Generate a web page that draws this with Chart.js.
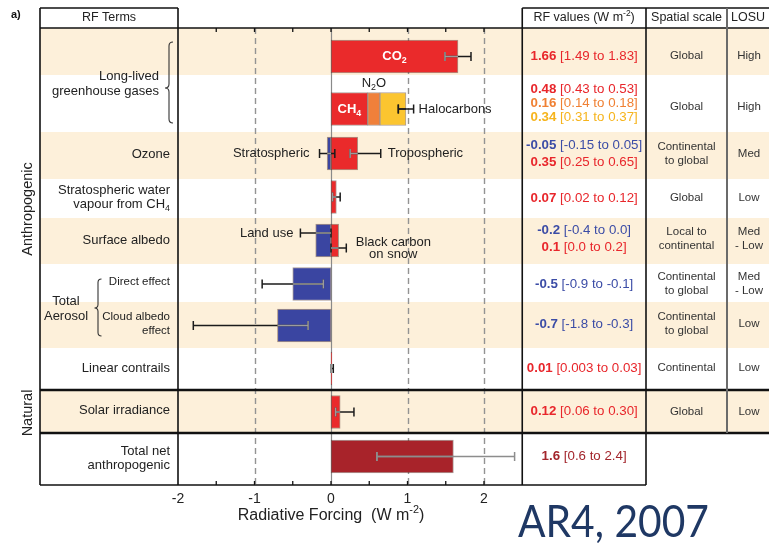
<!DOCTYPE html>
<html>
<head>
<meta charset="utf-8">
<title>Radiative forcing components</title>
<script src="https://cdn.jsdelivr.net/npm/chart.js@4.4.1/dist/chart.umd.min.js"></script>
<style>
  html, body { margin: 0; padding: 0; background: #fff; }
  canvas { display: block; }
</style>
</head>
<body>
<canvas id="rf" width="769" height="548"></canvas>
<script>
// ---- Radiative forcing components (W m^-2): best estimate and 90% range ----
const rfValue = ['1.66', '0.48', '0.16', '0.34', '-0.05', '0.35', '0.07', '-0.2', '0.1', '-0.5', '-0.7', '0.01', '0.12', '1.6'];
const rfLow   = ['1.49', '0.43', '0.14', '0.31', '-0.15', '0.25', '0.02', '-0.4', '0.0', '-0.9', '-1.8', '0.003', '0.06', '0.6'];
const rfHigh  = ['1.83', '0.53', '0.18', '0.37', '0.05', '0.65', '0.12', '0.0', '0.2', '-0.1', '-0.3', '0.03', '0.30', '2.4'];
// table row each component belongs to
const rfRow   = [0, 1, 1, 1, 2, 2, 3, 4, 4, 5, 6, 7, 8, 9];
// colour family of each component
const rfKind  = ['red', 'red', 'orange', 'yellow', 'blue', 'red', 'red', 'blue', 'red', 'blue', 'blue', 'red', 'red', 'darkred'];
// components that carry their own whisker (CH4, N2O, halocarbons share one)
const rfWhisker = [true, false, false, false, true, true, true, true, true, true, true, true, true, true];
const ghgStackRange = [0.88, 1.08];

// ---- table text ----
const termLabels   = [null, null, 'Ozone', 'Stratospheric water|vapour from CH_4', 'Surface albedo',
                      'Direct effect', 'Cloud albedo|effect', 'Linear contrails', 'Solar irradiance', 'Total net|anthropogenic'];
const spatialScale = ['Global', 'Global', 'Continental|to global', 'Global', 'Local to|continental',
                      'Continental|to global', 'Continental|to global', 'Continental', 'Global', null];
const losu         = ['High', 'High', 'Med', 'Low', 'Med|- Low', 'Med|- Low', 'Low', 'Low', 'Low', null];
const xTicks       = [-2, -1, 0, 1, 2];

// ---- layout & style ----
const FONT = '"Liberation Sans", Arial, Helvetica, sans-serif';
const BAR_COLORS  = { red: '#ea2a2b', orange: '#f0803a', yellow: '#fbc530', blue: '#3a45a1', darkred: '#a8232a' };
const TEXT_COLORS = { red: '#e8262b', orange: '#f08033', yellow: '#f6b41c', blue: '#3b4ca6', darkred: '#a3262c' };
const CREAM = '#fdf0da';
const ROW_EDGES = [0, 47, 104, 151, 190, 236, 274, 320, 362, 405, 457];   // row boundaries on the y scale
const BAR_SHIFT = [5, 5.5, -2, -1.5, -0.5, 1, 0.5, -0.5, 0.5, -2.5];     // bar offset from row middle
const TEXT_SHIFT = [4.5, 0, -1.5, -0.5, -2, 1, -1, -1, 0, -3];           // table text offset from row middle
const shadedRows = [0, 2, 4, 6, 8];
const BOX = { left: 40, top: 8, valuesRight: 646, scaleRight: 727, right: 769 };
const AXIS_H = 30;

const rowMid = r => (ROW_EDGES[r] + ROW_EDGES[r + 1]) / 2;

// stack same-signed components within a row
const barStart = [], barEnd = [];
const rowAcc = {};
rfValue.forEach((s, i) => {
  const v = Number(s);
  const acc = rowAcc[rfRow[i]] || (rowAcc[rfRow[i]] = { pos: 0, neg: 0 });
  const key = v >= 0 ? 'pos' : 'neg';
  barStart.push(acc[key]);
  acc[key] += v;
  barEnd.push(acc[key]);
});

// ---- rich text helpers: "_x" / "_{..}" subscript, "^{..}" superscript, "|" new line ----
function parseRich(str) {
  const segs = [];
  let buf = '', i = 0;
  while (i < str.length) {
    const c = str[i];
    if (c === '_' || c === '^') {
      if (buf) { segs.push({ t: buf, m: 0 }); buf = ''; }
      let t;
      if (str[i + 1] === '{') { const j = str.indexOf('}', i); t = str.slice(i + 2, j); i = j + 1; }
      else { t = str[i + 1]; i += 2; }
      segs.push({ t, m: c === '_' ? 1 : -1 });
    } else { buf += c; i++; }
  }
  if (buf) segs.push({ t: buf, m: 0 });
  return segs;
}

// runs: array of {s, bold}
function drawRuns(ctx, runs, x, y, opt) {
  const size = opt.size || 13;
  const pieces = [];
  runs.forEach(run => parseRich(run.s).forEach(seg => pieces.push({ ...seg, bold: run.bold || opt.bold })));
  let w = 0;
  pieces.forEach(p => {
    p.font = `${p.bold ? 'bold ' : ''}${p.m ? size * 0.68 : size}px ${FONT}`;
    ctx.font = p.font;
    p.w = ctx.measureText(p.t).width;
    w += p.w;
  });
  let cx = opt.align === 'center' ? x - w / 2 : opt.align === 'right' ? x - w : x;
  ctx.textAlign = 'left';
  ctx.textBaseline = 'middle';
  ctx.fillStyle = opt.color || '#222';
  pieces.forEach(p => {
    ctx.font = p.font;
    const dy = p.m > 0 ? size * 0.32 : p.m < 0 ? -size * 0.36 : 0;
    ctx.fillText(p.t, cx, y + dy);
    cx += p.w;
  });
  return w;
}

function drawLines(ctx, text, x, yMid, spacing, opt) {
  const lines = text.split('|');
  lines.forEach((ln, k) => drawRuns(ctx, [{ s: ln }], x, yMid + (k - (lines.length - 1) / 2) * spacing, opt));
}

function line(ctx, x1, y1, x2, y2) {
  ctx.beginPath(); ctx.moveTo(x1, y1); ctx.lineTo(x2, y2); ctx.stroke();
}

function brace(ctx, x, y1, y2, ym, w) {
  ctx.beginPath();
  ctx.moveTo(x + w, y1);
  ctx.quadraticCurveTo(x, y1, x, y1 + w);
  ctx.lineTo(x, ym - w);
  ctx.quadraticCurveTo(x, ym, x - w, ym);
  ctx.quadraticCurveTo(x, ym, x, ym + w);
  ctx.lineTo(x, y2 - w);
  ctx.quadraticCurveTo(x, y2, x + w, y2);
  ctx.stroke();
}

// ---- background: shaded rows, dashed reference lines, zero line ----
const backdrop = {
  id: 'backdrop',
  beforeDatasetsDraw(chart) {
    const { ctx, chartArea: a, scales: { x, y } } = chart;
    ctx.save();
    ctx.fillStyle = CREAM;
    shadedRows.forEach(r => {
      const t = y.getPixelForValue(ROW_EDGES[r]), b = y.getPixelForValue(ROW_EDGES[r + 1]);
      ctx.fillRect(BOX.left, t, BOX.right - BOX.left, b - t);
    });
    ctx.strokeStyle = '#939393';
    ctx.lineWidth = 1.4;
    ctx.setLineDash([6, 4]);
    xTicks.filter(v => v !== 0 && v !== x.min).forEach(v => {
      const px = Math.round(x.getPixelForValue(v)) + 0.5;
      line(ctx, px, a.top, px, a.bottom);
    });
    ctx.setLineDash([]);
    ctx.strokeStyle = '#8a8a8a';
    ctx.lineWidth = 1.2;
    const z = Math.round(x.getPixelForValue(0)) + 0.5;
    line(ctx, z, a.top, z, a.bottom);
    ctx.restore();
  }
};

// ---- whiskers and labels on the bars ----
const overlays = {
  id: 'overlays',
  afterDatasetsDraw(chart) {
    const { ctx, scales: { x } } = chart;
    const bars = chart.getDatasetMeta(0).data;
    ctx.save();
    ctx.lineWidth = 1.5;

    const whisker = (lo, hi, yy, bLo, bHi, outer, inner) => {
      const x1 = x.getPixelForValue(lo), x2 = x.getPixelForValue(hi);
      ctx.strokeStyle = outer;
      line(ctx, x1, yy, x2, yy);
      line(ctx, x1, yy - 4.5, x1, yy + 4.5);
      line(ctx, x2, yy - 4.5, x2, yy + 4.5);
      const a = Math.max(lo, bLo), b = Math.min(hi, bHi);
      if (b > a) {
        ctx.strokeStyle = inner;
        line(ctx, x.getPixelForValue(a), yy, x.getPixelForValue(b), yy);
        if (lo > bLo && lo < bHi) line(ctx, x1, yy - 4.5, x1, yy + 4.5);
        if (hi > bLo && hi < bHi) line(ctx, x2, yy - 4.5, x2, yy + 4.5);
      }
    };
    const whiskerDy = { 7: -7.5, 8: 7.5 };

    rfValue.forEach((s, i) => {
      if (!rfWhisker[i]) return;
      const lo = Number(rfLow[i]), hi = Number(rfHigh[i]);
      const bLo = Math.min(barStart[i], barEnd[i]), bHi = Math.max(barStart[i], barEnd[i]);
      const yy = bars[i].y + (whiskerDy[i] || 0);
      if (rfKind[i] === 'darkred') whisker(lo, hi, yy, bLo, bHi, '#8d8d8d', '#8d8d8d');
      else whisker(lo, hi, yy, bLo, bHi, '#1b1b1b', '#9c9c9c');
    });
    // combined whisker at the end of the CH4 / N2O / halocarbon stack
    whisker(ghgStackRange[0], ghgStackRange[1], bars[3].y, 0, barEnd[3], '#1b1b1b', '#1b1b1b');

    const mid = i => x.getPixelForValue((barStart[i] + barEnd[i]) / 2);
    drawRuns(ctx, [{ s: 'CO_2' }], mid(0), bars[0].y, { size: 13, bold: true, color: '#fff', align: 'center' });
    drawRuns(ctx, [{ s: 'CH_4' }], mid(1), bars[1].y, { size: 13, bold: true, color: '#fff', align: 'center' });
    drawRuns(ctx, [{ s: 'N_2O' }], mid(2), bars[2].y - 26, { size: 13, align: 'center' });
    drawRuns(ctx, [{ s: 'Halocarbons' }], x.getPixelForValue(ghgStackRange[1]) + 5, bars[3].y, { size: 13 });
    drawRuns(ctx, [{ s: 'Stratospheric' }], x.getPixelForValue(Number(rfLow[4])) - 10, bars[4].y, { size: 13, align: 'right' });
    drawRuns(ctx, [{ s: 'Tropospheric' }], x.getPixelForValue(Number(rfHigh[5])) + 7, bars[5].y, { size: 13 });
    drawRuns(ctx, [{ s: 'Land use' }], x.getPixelForValue(Number(rfLow[7])) - 7, bars[7].y + whiskerDy[7], { size: 13, align: 'right' });
    drawLines(ctx, 'Black carbon|on snow', x.getPixelForValue(Number(rfHigh[8])) + 47, bars[8].y + 8, 12, { size: 13, align: 'center' });
    ctx.restore();
  }
};

// ---- surrounding table, headers and axis title ----
const frame = {
  id: 'frame',
  afterDraw(chart) {
    const { ctx, chartArea: a, scales: { x, y } } = chart;
    const rowY = r => y.getPixelForValue(rowMid(r));
    const edge = r => y.getPixelForValue(ROW_EDGES[r]);
    ctx.save();

    // inward tick marks every 0.5
    ctx.strokeStyle = '#111';
    ctx.lineWidth = 1.3;
    for (let v = x.min + 0.5; v < x.max; v += 0.5) {
      const px = x.getPixelForValue(v);
      line(ctx, px, a.top, px, a.top + 4);
      line(ctx, px, a.bottom, px, a.bottom - 4);
    }

    // grid of the table
    ctx.strokeStyle = '#111';
    ctx.lineWidth = 1.6;
    line(ctx, BOX.left, BOX.top, a.left, BOX.top);
    line(ctx, a.right, BOX.top, BOX.right, BOX.top);
    line(ctx, BOX.left, a.top, BOX.right, a.top);
    line(ctx, BOX.left, BOX.top, BOX.left, a.bottom);
    line(ctx, a.left, BOX.top, a.left, a.bottom);
    line(ctx, a.right, BOX.top, a.right, a.bottom);
    line(ctx, BOX.valuesRight, BOX.top, BOX.valuesRight, a.bottom);
    line(ctx, BOX.left, a.bottom, BOX.valuesRight, a.bottom);
    ctx.lineWidth = 2.6;
    line(ctx, BOX.left, edge(8), BOX.right, edge(8));
    line(ctx, BOX.left, edge(9), BOX.right, edge(9));
    ctx.strokeStyle = '#6b6b6b';
    ctx.lineWidth = 2;
    line(ctx, BOX.scaleRight, BOX.top, BOX.scaleRight, edge(9));

    // headers
    const hy = (BOX.top + a.top) / 2;
    drawRuns(ctx, [{ s: 'a)' }], 11, hy - 3, { size: 11, bold: true, color: '#111' });
    drawRuns(ctx, [{ s: 'RF Terms' }], (BOX.left + a.left) / 2, hy, { size: 12.5, align: 'center' });
    drawRuns(ctx, [{ s: 'RF values (W m^{-2})' }], (a.right + BOX.valuesRight) / 2, hy, { size: 12.5, align: 'center' });
    drawRuns(ctx, [{ s: 'Spatial scale' }], (BOX.valuesRight + BOX.scaleRight) / 2, hy, { size: 12.5, align: 'center' });
    drawRuns(ctx, [{ s: 'LOSU' }], BOX.scaleRight + 4, hy, { size: 12.5 });

    // group labels on the far left
    ctx.save();
    ctx.translate(28, 209);
    ctx.rotate(-Math.PI / 2);
    drawRuns(ctx, [{ s: 'Anthropogenic' }], 0, 0, { size: 14.5, align: 'center' });
    ctx.restore();
    ctx.save();
    ctx.translate(28, 413);
    ctx.rotate(-Math.PI / 2);
    drawRuns(ctx, [{ s: 'Natural' }], 0, 0, { size: 14.5, align: 'center' });
    ctx.restore();

    // term labels
    const lx = a.left - 8;
    drawLines(ctx, 'Long-lived|greenhouse gases', lx - 11, edge(1) + 8.5, 15, { size: 13, align: 'right' });
    ctx.strokeStyle = '#333';
    ctx.lineWidth = 1.1;
    brace(ctx, a.left - 9, edge(0) + 14, edge(2) - 9, edge(1) + 13, 4);
    termLabels.forEach((t, r) => {
      if (!t) return;
      const small = r === 5 || r === 6;
      drawLines(ctx, t, lx, rowY(r) - 1, 14, { size: small ? 11.5 : 13, align: 'right' });
    });
    drawRuns(ctx, [{ s: 'Total' }], 66, edge(6) - 1, { size: 13, align: 'center' });
    drawRuns(ctx, [{ s: 'Aerosol' }], 66, edge(6) + 14, { size: 13, align: 'center' });
    brace(ctx, 98, edge(5) + 15, edge(7) - 12, edge(6) + 6, 3.5);

    // RF values column
    const vx = (a.right + BOX.valuesRight) / 2;
    for (let r = 0; r < ROW_EDGES.length - 1; r++) {
      const items = rfValue.map((s, i) => i).filter(i => rfRow[i] === r);
      const gap = items.length > 2 ? 14 : 17;
      items.forEach((i, k) => {
        const yy = rowY(r) + TEXT_SHIFT[r] + (k - (items.length - 1) / 2) * gap;
        drawRuns(ctx, [{ s: rfValue[i], bold: true }, { s: ` [${rfLow[i]} to ${rfHigh[i]}]` }], vx, yy,
          { size: 13.3, color: TEXT_COLORS[rfKind[i]], align: 'center' });
      });
    }

    // spatial scale and LOSU columns
    const cellY = r => rowY(r) + (r === 1 ? 3 : TEXT_SHIFT[r]);
    spatialScale.forEach((t, r) => {
      if (!t) return;
      drawLines(ctx, t, (BOX.valuesRight + BOX.scaleRight) / 2, cellY(r), 13.5, { size: 11.5, color: '#333', align: 'center' });
    });
    losu.forEach((t, r) => {
      if (!t) return;
      drawLines(ctx, t, 749, cellY(r), 14, { size: 11.5, color: '#333', align: 'center' });
    });

    // axis title, centred on zero
    drawRuns(ctx, [{ s: 'Radiative Forcing  (W m^{-2})' }], x.getPixelForValue(0), a.bottom + 31, { size: 16, align: 'center' });

    // source tag
    ctx.font = `44px Lato, "Open Sans", sans-serif`;
    ctx.fillStyle = '#1f3864';
    ctx.textAlign = 'left';
    ctx.textBaseline = 'alphabetic';
    const tag = 'AR4, 2007';
    const tw = ctx.measureText(tag).width;
    ctx.save();
    ctx.translate(518, 537);
    ctx.scale(191 / tw, 1);
    ctx.fillText(tag, 0, 0);
    ctx.restore();

    ctx.restore();
  }
};

Chart.defaults.font.family = FONT;

new Chart(document.getElementById('rf'), {
  type: 'bar',
  data: {
    datasets: [{
      data: barStart.map((s, i) => ({ x: [s, barEnd[i]], y: rowMid(rfRow[i]) + BAR_SHIFT[rfRow[i]] })),
      backgroundColor: rfKind.map(k => BAR_COLORS[k]),
      borderColor: 'rgba(70, 40, 30, 0.45)',
      borderWidth: 1,
      borderSkipped: false,
      barThickness: 33,
      grouped: false
    }]
  },
  options: {
    indexAxis: 'y',
    responsive: false,
    animation: false,
    devicePixelRatio: 1,
    layout: { padding: { left: 178, right: 246.75, top: 28, bottom: 548 - 485 - AXIS_H } },
    plugins: { legend: { display: false }, tooltip: { enabled: false } },
    scales: {
      x: {
        type: 'linear',
        position: 'bottom',
        min: -2,
        max: 2.5,
        afterBuildTicks: s => { s.ticks = xTicks.map(v => ({ value: v })); },
        afterFit: s => { s.height = AXIS_H; },
        grid: { display: false, drawTicks: false },
        border: { display: false },
        ticks: { color: '#222', font: { size: 14 }, padding: 6, maxRotation: 0 }
      },
      y: {
        type: 'linear',
        min: ROW_EDGES[0],
        max: ROW_EDGES[ROW_EDGES.length - 1],
        reverse: true,
        offset: false,
        grid: { offset: false },
        display: false
      }
    }
  },
  plugins: [backdrop, overlays, frame]
});
</script>
</body>
</html>
